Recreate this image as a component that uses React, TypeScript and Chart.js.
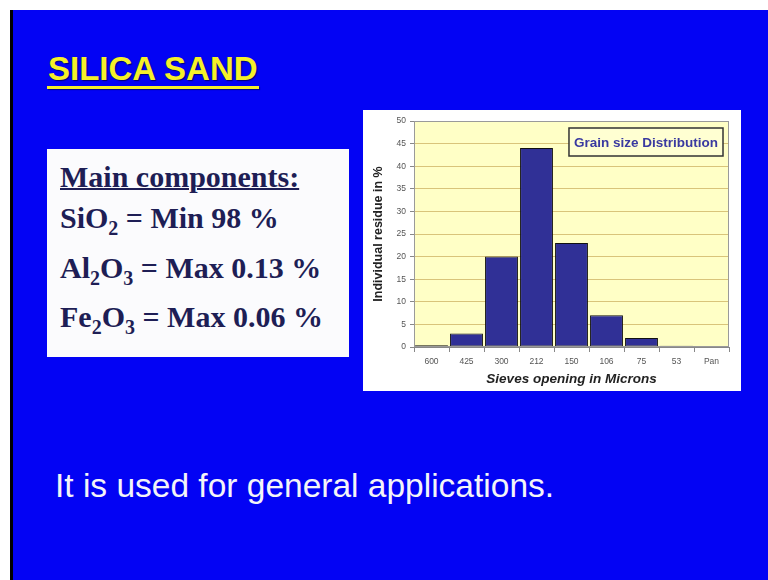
import React, { useEffect, useRef } from "react";
import { Chart, registerables } from "chart.js";

Chart.register(...registerables);

const sieveLabels = ["600", "425", "300", "212", "150", "106", "75", "53", "Pan"];
const residueValues = [0.4, 3, 20, 44, 23, 7, 2, 0.3, 0];
const yTicks = { min: 0, max: 50, step: 5 };
const chartTitle = "Grain size Distribution";
const xTitle = "Sieves opening in Microns";
const yTitle = "Individual residue in %";

const plotDecor = {
  id: "plotDecor",
  beforeDraw(chart: any) {
    const { ctx, chartArea: a } = chart;
    ctx.save();
    ctx.fillStyle = "#ffffc6";
    ctx.fillRect(a.left, a.top, a.right - a.left, a.bottom - a.top);
    ctx.restore();
  },
  afterDraw(chart: any) {
    const { ctx, chartArea: a } = chart;
    ctx.save();
    ctx.strokeStyle = "#9a9a9a";
    ctx.lineWidth = 1;
    ctx.strokeRect(a.left + 0.5, a.top + 0.5, a.right - a.left - 1, a.bottom - a.top - 1);
    ctx.font = "bold 13.5px 'Liberation Sans', Arial, sans-serif";
    const tw = ctx.measureText(chartTitle).width;
    const bw = tw + 10;
    const bh = 28;
    const bx = a.right - 6 - bw;
    const by = a.top + 7;
    ctx.fillStyle = "#ffffd2";
    ctx.fillRect(bx, by, bw, bh);
    ctx.strokeStyle = "#333333";
    ctx.lineWidth = 1.5;
    ctx.strokeRect(bx, by, bw, bh);
    ctx.fillStyle = "#3a3aa0";
    ctx.textBaseline = "middle";
    ctx.textAlign = "left";
    ctx.fillText(chartTitle, bx + 5, by + bh / 2 + 1);
    ctx.restore();
  },
};

function GrainChart() {
  const ref = useRef<HTMLCanvasElement>(null);
  useEffect(() => {
    if (!ref.current) return;
    const tickFont = { family: "'Liberation Sans', Arial, sans-serif", size: 8.5 };
    const chart = new Chart(ref.current, {
      type: "bar",
      data: {
        labels: sieveLabels,
        datasets: [
          {
            data: residueValues,
            backgroundColor: "#303096",
            borderColor: "#111111",
            borderWidth: 1,
            borderSkipped: false,
            barPercentage: 0.94,
            categoryPercentage: 1,
          },
        ],
      },
      plugins: [plotDecor],
      options: {
        animation: false,
        responsive: false,
        layout: { padding: { top: 11, right: 12, left: 0, bottom: 0 } },
        plugins: { legend: { display: false }, tooltip: { enabled: false }, title: { display: false } },
        scales: {
          x: {
            afterFit(scale: any) {
              scale.height = 44;
            },
            grid: { offset: true, drawOnChartArea: false, drawTicks: true, tickLength: 5, color: "#888888" },
            border: { color: "#888888" },
            ticks: { font: tickFont, color: "#555555", padding: 5, maxRotation: 0, autoSkip: false },
            title: {
              display: true,
              text: xTitle,
              color: "#222222",
              font: { family: "'Liberation Sans', Arial, sans-serif", size: 13.5, weight: "bold", style: "italic" },
              padding: { top: 0, bottom: 4 },
            },
          },
          y: {
            min: yTicks.min,
            max: yTicks.max,
            afterFit(scale: any) {
              scale.width = 51;
            },
            ticks: { stepSize: yTicks.step, font: tickFont, color: "#555555", padding: 4 },
            grid: {
              color: (c: any) => (c.tick && c.tick.value === 0 ? "#888888" : "#d9c47a"),
              tickColor: "#888888",
              tickLength: 4,
              drawTicks: true,
            },
            border: { color: "#888888" },
            title: {
              display: true,
              text: yTitle,
              color: "#222222",
              font: { family: "'Liberation Sans', Arial, sans-serif", size: 12.5, weight: "bold" },
              padding: { top: 8, bottom: 0 },
            },
          },
        },
      },
    } as any);
    return () => chart.destroy();
  }, []);
  return <canvas ref={ref} width={378} height={281} style={{ display: "block" }} />;
}

const serif = "'Liberation Serif', 'Times New Roman', serif";
const sans = "'Liberation Sans', Arial, sans-serif";
const navy = "#1e1e55";

function Line({ top, children, underline }: { top: number; children: any; underline?: boolean }) {
  return (
    <div
      style={{
        position: "absolute",
        left: 13,
        top,
        fontFamily: serif,
        fontWeight: "bold",
        fontSize: 30,
        lineHeight: "30px",
        color: navy,
        whiteSpace: "nowrap",
        textDecoration: underline ? "underline" : "none",
        textDecorationThickness: underline ? "2px" : undefined,
      }}
    >
      {children}
    </div>
  );
}

const sub: React.CSSProperties = { fontSize: 20, verticalAlign: "-7px", lineHeight: 0 };

export default function App() {
  return (
    <div style={{ position: "fixed", left: 0, top: 0, width: 768, height: 580, background: "#ffffff", overflow: "hidden" }}>
      <div style={{ position: "absolute", left: 10, top: 10, width: 3, height: 570, background: "#000000" }} />
      <div style={{ position: "absolute", left: 13, top: 10, width: 755, height: 570, background: "#0303f4" }} />
      <div
        style={{
          position: "absolute",
          left: 48,
          top: 52,
          fontFamily: sans,
          fontWeight: "bold",
          fontSize: 33,
          lineHeight: "33px",
          color: "#f4f02a",
          whiteSpace: "nowrap",
          textShadow: "1px 1px 1px rgba(0,0,60,0.7)",
        }}
      >
        SILICA SAND
      </div>
      <div style={{ position: "absolute", left: 47, top: 86, width: 212, height: 3, background: "#f4f02a", boxShadow: "1px 1px 1px rgba(0,0,60,0.6)" }} />

      <div style={{ position: "absolute", left: 47, top: 149, width: 302, height: 208, background: "#fbfbfd" }}>
        <Line top={13} underline>
          Main components:
        </Line>
        <Line top={54}>
          SiO<span style={sub}>2</span> = Min 98 %
        </Line>
        <Line top={104}>
          Al<span style={sub}>2</span>O<span style={sub}>3</span> = Max 0.13 %
        </Line>
        <Line top={153}>
          Fe<span style={sub}>2</span>O<span style={sub}>3</span> = Max 0.06 %
        </Line>
      </div>

      <div style={{ position: "absolute", left: 363, top: 110, width: 378, height: 281, background: "#ffffff" }}>
        <GrainChart />
      </div>

      <div
        style={{
          position: "absolute",
          left: 55,
          top: 469,
          fontFamily: sans,
          fontSize: 33.5,
          lineHeight: "34px",
          color: "#f4f4f8",
          whiteSpace: "nowrap",
        }}
      >
        It is used for general applications.
      </div>
    </div>
  );
}
